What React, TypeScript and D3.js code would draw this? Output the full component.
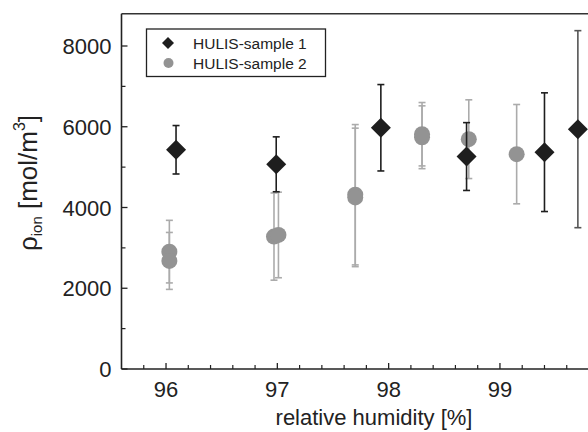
import React from "react";
import * as d3 from "d3";

const W = 588;
const H = 432;

// sample 1: relative humidity, rho_ion, error
const s1X = [96.09, 96.99, 97.93, 98.7, 99.4, 99.7];
const s1Y = [5430, 5070, 5975, 5262, 5370, 5940];
const s1E = [600, 680, 1070, 840, 1470, 2440];

// sample 2
const s2X = [96.03, 96.03, 96.97, 97.01, 97.7, 97.7, 98.3, 98.3, 98.72, 99.15];
const s2Y = [2907, 2677, 3280, 3320, 4316, 4250, 5815, 5740, 5692, 5321];
const s2E = [775, 705, 1080, 1060, 1738, 1715, 785, 778, 975, 1230];

const xMajor = [96, 97, 98, 99];
const yMajor = [0, 2000, 4000, 6000, 8000];
const legendLabels = ["HULIS-sample 1", "HULIS-sample 2"];

const FONT = "'Liberation Sans', Arial, sans-serif";

export default function App() {
  const x = d3.scaleLinear().domain([95.6, 99.8]).range([121.5, 589]);
  const y = d3.scaleLinear().domain([0, 8800]).range([369, 13.7]);

  const xMinor = d3.range(95.8, 99.81, 0.2).filter(
    (v) => Math.abs(v - Math.round(v)) > 0.01
  );
  const yMinor = d3.range(1000, 8001, 2000);

  const diamond = (cx: number, cy: number, r: number) =>
    `M${cx},${cy - r}L${cx + r},${cy}L${cx},${cy + r}L${cx - r},${cy}Z`;

  const errBar = (
    xv: number,
    yv: number,
    e: number,
    color: string,
    key: string
  ) => {
    const cx = x(xv);
    const y1 = y(yv + e);
    const y2 = y(yv - e);
    return (
      <g key={key} stroke={color} strokeWidth={1.6}>
        <line x1={cx} x2={cx} y1={y1} y2={y2} />
        <line x1={cx - 3.5} x2={cx + 3.5} y1={y1} y2={y1} />
        <line x1={cx - 3.5} x2={cx + 3.5} y1={y2} y2={y2} />
      </g>
    );
  };

  const x0 = x(95.6);
  const y0 = y(0);

  return (
    <svg
      width={W}
      height={H}
      style={{ position: "absolute", left: 0, top: 0, background: "#fff" }}
      fontFamily={FONT}
    >
      <rect x={0} y={0} width={W} height={H} fill="#fff" />
      {/* frame */}
      <line x1={x0} x2={W} y1={y(8800)} y2={y(8800)} stroke="#333" strokeWidth={1.5} />
      <line x1={x0} x2={x0} y1={y(8800)} y2={y0} stroke="#222" strokeWidth={1.6} />
      <line x1={x0} x2={W} y1={y0} y2={y0} stroke="#222" strokeWidth={1.6} />

      {/* x ticks */}
      {xMajor.map((v) => (
        <g key={"xm" + v}>
          <line x1={x(v)} x2={x(v)} y1={y0} y2={y0 - 6} stroke="#222" strokeWidth={1.3} />
          <text x={x(v)} y={y0 + 28} textAnchor="middle" fontSize={22} fill="#222">
            {v}
          </text>
        </g>
      ))}
      {xMinor.map((v, i) => (
        <line key={"xn" + i} x1={x(v)} x2={x(v)} y1={y0} y2={y0 - 4} stroke="#222" strokeWidth={1.2} />
      ))}

      {/* y ticks */}
      {yMajor.map((v) => (
        <g key={"ym" + v}>
          <line x1={x0} x2={x0 + 6} y1={y(v)} y2={y(v)} stroke="#222" strokeWidth={1.3} />
          <text x={x0 - 10} y={y(v) + 8} textAnchor="end" fontSize={22} fill="#222">
            {v}
          </text>
        </g>
      ))}
      {yMinor.map((v) => (
        <line key={"yn" + v} x1={x0} x2={x0 + 4} y1={y(v)} y2={y(v)} stroke="#222" strokeWidth={1.2} />
      ))}

      {/* axis titles */}
      <text x={374} y={425} textAnchor="middle" fontSize={22} fill="#222">
        relative humidity [%]
      </text>
      <text
        transform={`translate(37,183) rotate(-90)`}
        textAnchor="middle"
        fontSize={26}
        fill="#222"
      >
        ρ<tspan fontSize={15} dy={5}>ion</tspan>
        <tspan dy={-5}> [mol/m</tspan>
        <tspan fontSize={16} dy={-12}>3</tspan>
        <tspan dy={12}>]</tspan>
      </text>

      {/* sample 2 */}
      {s2X.map((v, i) => errBar(v, s2Y[i], s2E[i], "#ababab", "e2" + i))}
      {s2X.map((v, i) => (
        <circle key={"c2" + i} cx={x(v)} cy={y(s2Y[i])} r={8} fill="#939393" />
      ))}

      {/* sample 1 */}
      {s1X.map((v, i) => errBar(v, s1Y[i], s1E[i], i === 5 ? "#555" : "#1e1e1e", "e1" + i))}
      {s1X.map((v, i) => (
        <path key={"d1" + i} d={diamond(x(v), y(s1Y[i]), 10)} fill="#1e1e1e" />
      ))}

      {/* legend */}
      <rect x={146.5} y={29} width={179} height={47.5} fill="#fff" stroke="#222" strokeWidth={1.3} />
      <path d={diamond(168, 43, 6)} fill="#1e1e1e" />
      <circle cx={168.5} cy={63} r={5} fill="#939393" />
      {legendLabels.map((l, i) => (
        <text key={l} x={193} y={48.5 + i * 20} fontSize={15.5} fill="#222">
          {l}
        </text>
      ))}
    </svg>
  );
}
